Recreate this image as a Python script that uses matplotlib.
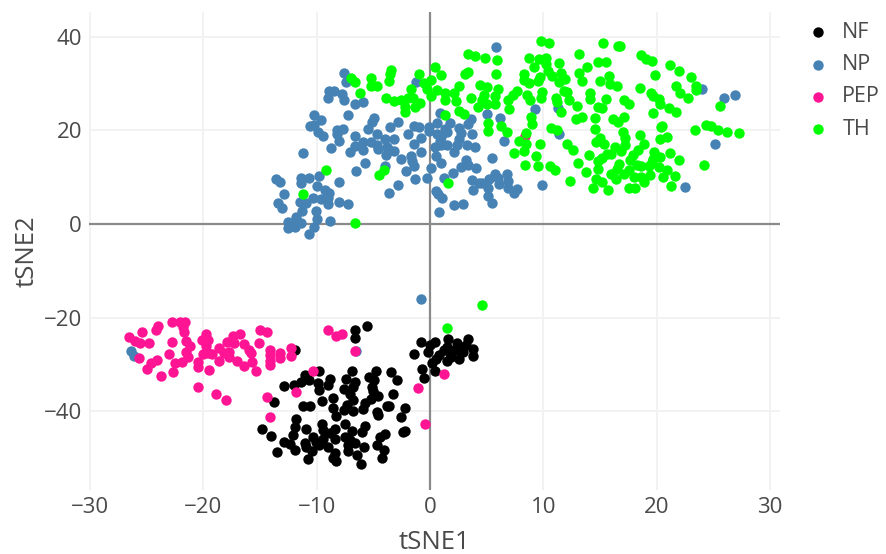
#!/usr/bin/env python3
"""tSNE scatter of the four cell groups"""

import matplotlib
matplotlib.use('Agg')
import matplotlib.pyplot as plt

plt.rcParams['font.family'] = ['Open Sans', 'DejaVu Sans']

# (tSNE1, tSNE2)
nf_points = [
    (-5.6,-21.8),(-6.6,-22.7),(-6.6,-24.3),(-11.9,-26.8),(-9.8,-31.4),(-6.9,-31.3),(-4.8,-31.4),(-3.4,-31.6),
    (-2.9,-33.3),(-11.0,-32.3),(-11.4,-33.7),(-12.0,-34.3),(-12.9,-34.5),(-10.7,-33.2),(-9.9,-33.9),(-8.8,-33.1),
    (-9.0,-34.3),(-9.8,-35.5),(-7.4,-33.0),(-6.6,-33.8),(-6.8,-34.8),(-7.6,-35.2),(-5.4,-32.7),(-4.9,-33.2),
    (-5.1,-34.8),(-5.0,-35.7),(-4.6,-36.7),(-3.3,-36.3),(-7.1,-36.2),(-6.8,-37.5),(-8.6,-37.2),(-9.5,-37.8),
    (-13.8,-38.1),(-11.2,-38.8),(-10.6,-38.9),(-8.6,-39.2),(-7.3,-38.7),(-7.6,-39.7),(-6.8,-39.9),(-5.7,-38.3),
    (-5.9,-39.4),(-5.2,-37.3),(-3.8,-38.8),(-3.6,-38.8),(-2.2,-39.3),(-2.6,-41.2),(-4.7,-40.2),(-4.6,-40.8),
    (-8.3,-41.1),(-11.8,-41.7),(-11.9,-43.3),(-12.1,-45.1),(-14.8,-43.7),(-14.0,-45.3),(-10.9,-43.8),(-9.5,-42.7),
    (-7.5,-42.6),(-5.7,-43.2),(-6.9,-44.2),(-9.4,-44.0),(-8.8,-44.7),(-8.4,-43.7),(-6.0,-44.4),(-4.0,-44.9),
    (-4.4,-45.4),(-2.4,-44.4),(-2.2,-44.1),(-12.9,-46.5),(-12.4,-47.0),(-11.9,-48.2),(-13.5,-48.7),(-11.0,-46.7),
    (-10.9,-47.6),(-10.3,-45.4),(-10.1,-46.5),(-9.8,-47.2),(-10.4,-48.4),(-10.8,-50.1),(-9.4,-45.8),(-9.0,-47.6),
    (-8.4,-45.8),(-7.5,-45.4),(-7.1,-46.2),(-7.2,-47.2),(-6.6,-46.7),(-7.2,-48.4),(-5.8,-47.6),(-4.7,-47.2),
    (-4.1,-48.3),(-4.2,-49.9),(-6.4,-49.4),(-8.4,-49.0),(-8.6,-49.9),(-8.3,-50.7),(-6.1,-51.3),
    (-0.8,-25.1),(-1.4,-27.8),(-0.7,-31.0),(-0.5,-32.8),(0.4,-25.1),(0.0,-25.8),(-0.2,-27.3),(0.4,-31.4),
    (0.2,-29.6),(0.5,-28.9),(0.8,-28.0),(1.2,-26.9),(1.6,-24.6),(1.5,-26.2),(1.8,-27.6),(1.5,-29.2),
    (2.1,-26.9),(1.9,-28.3),(2.4,-25.4),(2.6,-28.9),(2.9,-27.3),(2.5,-26.9),(3.4,-24.6),(3.2,-25.9),
    (3.8,-26.7),(3.8,-28.2),
]

np_points = [
    (-7.6,32.3),(-7.4,30.3),(-8.9,28.4),(-8.5,28.5),(-9.0,26.9),(-7.8,27.7),(-7.6,26.6),(-6.6,25.7),
    (-5.9,26.1),(-7.2,23.4),(-10.2,23.4),(-9.6,22.2),(-10.6,20.9),(-10.2,21.2),(-9.9,19.7),(-9.4,18.8),
    (-8.2,20.2),(-7.7,20.4),(-8.2,19.2),(-8.0,17.8),(-8.7,16.2),(-6.6,18.9),(-5.5,20.3),(-4.9,22.6),
    (-5.1,21.7),(-4.7,19.2),(-3.5,20.7),(-2.8,21.8),(-4.0,18.2),(-3.2,18.2),(-1.9,19.2),(-1.4,20.9),
    (-1.0,20.8),(-0.8,18.4),(-1.4,17.0),(-5.9,17.5),(-5.2,17.6),(-6.6,16.7),(-7.1,15.5),(-5.9,15.8),
    (-4.7,16.9),(-4.6,16.0),(-3.8,16.5),(-3.7,16.0),(-3.2,15.7),(-3.9,14.8),(-2.6,14.0),(-1.7,14.6),
    (-1.6,13.5),(-1.4,12.3),(-0.8,15.5),(-5.7,13.1),(-6.5,11.3),(-11.2,15.2),(-4.0,12.5),(-2.1,11.3),
    (-1.3,9.7),(-0.3,9.8),(0.1,12.0),(0.5,14.5),(1.0,13.1),(2.0,11.0),(2.7,12.1),(3.2,13.7),
    (3.4,12.7),(4.1,12.0),(1.2,9.8),(3.7,9.4),(4.3,8.8),(3.8,7.3),(-2.8,8.4),(-3.6,6.6),
    (0.5,7.1),(0.7,6.4),(1.1,5.6),(2.1,4.1),(2.9,4.3),(0.8,2.6),(-1.2,30.3),
    (-0.1,20.8),(-0.1,19.9),(0.6,21.5),(0.9,23.8),(1.8,21.6),(1.3,20.4),(1.5,19.7),(0.6,19.2),
    (1.0,18.7),(0.9,17.7),(0.4,16.5),(1.0,16.9),(1.5,16.9),(2.1,15.5),(2.4,16.9),(2.6,20.6),
    (2.7,19.4),(2.6,18.1),(3.4,21.3),(3.6,22.4),(3.7,19.2),(3.3,16.9),(4.0,16.4),
    (-13.6,9.6),(-13.2,9.0),(-11.4,9.9),(-10.7,9.8),(-9.8,10.3),(-11.4,8.7),(-10.0,8.1),(-12.9,6.5),
    (-8.0,9.0),(-9.3,7.3),(-8.9,6.6),(-9.0,5.6),(-10.3,5.6),(-9.6,5.3),(-9.0,4.3),(-8.0,4.7),
    (-7.2,4.3),(-11.5,4.8),(-10.9,4.4),(-11.3,2.9),(-13.4,4.6),(-13.1,3.5),(-10.1,2.8),(-10.0,1.0),
    (-11.8,1.6),(-12.5,0.5),(-11.4,0.3),(-12.1,0.0),(-12.5,-0.9),(-11.9,-0.6),(-10.2,-0.7),(-10.7,-2.1),
    (-8.8,0.6),
    (5.8,37.9),(5.0,23.6),(6.2,22.7),(9.3,24.5),(11.3,24.9),(11.4,19.2),(6.5,17.7),(5.5,14.2),
    (24.0,28.8),(26.0,27.0),(26.9,27.5),(25.2,17.0),(22.5,7.9),(9.9,8.3),
    (5.7,10.7),(5.2,9.6),(6.0,9.8),(6.8,10.8),(6.9,9.2),(6.1,8.5),(4.6,8.7),(5.1,7.8),
    (6.9,7.8),(7.7,7.4),(7.4,6.6),(5.1,6.0),(5.5,4.4),
    (-26.4,-27.2),(-26.1,-28.2),(-0.8,-16.0),(-6.5,-27.2),
]

pep_points = [
    (-26.6,-24.1),(-25.4,-23.0),(-24.2,-22.6),(-24.0,-21.7),(-22.8,-21.0),(-22.1,-21.0),(-21.6,-21.0),(-21.8,-21.9),
    (-21.7,-23.1),(-26.0,-25.0),(-25.6,-25.3),(-24.8,-25.3),(-22.8,-25.2),(-21.5,-25.0),(-21.2,-26.0),(-19.8,-23.5),
    (-20.1,-24.8),(-19.6,-24.7),(-19.8,-26.1),(-21.5,-27.3),(-23.0,-27.8),(-25.7,-28.7),(-24.1,-29.1),(-24.6,-29.6),
    (-25.0,-30.9),(-23.7,-32.5),(-22.7,-31.7),(-22.5,-29.6),(-21.9,-29.4),(-21.4,-28.4),(-20.5,-29.4),(-20.5,-30.5),
    (-19.5,-31.2),(-20.0,-27.8),(-19.6,-27.5),(-19.2,-27.8),(-18.6,-26.4),(-18.6,-29.3),(-18.2,-27.6),(-17.7,-28.4),
    (-17.9,-25.2),(-17.4,-23.9),(-16.8,-23.4),(-17.3,-25.5),(-17.7,-27.3),(-16.4,-25.7),(-16.0,-26.8),(-15.8,-27.6),
    (-17.0,-29.3),(-16.4,-30.3),(-15.7,-29.4),(-15.4,-31.3),(-15.0,-22.7),(-14.4,-23.1),(-15.1,-25.4),(-14.1,-26.8),
    (-14.1,-28.0),(-14.1,-29.2),(-14.1,-30.2),(-13.2,-27.6),(-13.2,-28.7),(-12.3,-26.4),(-12.3,-28.1),(-20.5,-34.8),
    (-18.9,-36.3),(-18.0,-37.5),(-14.4,-37.0),(-14.1,-41.3),(-11.8,-35.9),
    (-9.0,-22.7),(-8.3,-23.9),(-7.8,-23.4),(-6.6,-27.2),(-10.3,-31.4),(-1.1,-35.1),(1.2,-32.1),(-0.4,-42.7),
    (8.4,18.8),
]

th_points = [
    (-7.0,31.2),(-6.6,30.3),(-5.2,31.1),(-3.4,32.9),(-3.5,32.0),(-3.6,30.5),(-5.2,29.4),(-4.7,29.5),
    (-6.2,28.0),(-1.0,32.0),(0.4,33.6),(1.0,31.9),(3.4,36.3),(4.0,35.8),(3.4,32.5),(3.1,32.0),
    (-0.5,30.2),(0.1,30.8),(-0.3,28.8),(-1.7,28.8),(0.1,27.4),(0.6,28.6),(1.3,28.1),(2.1,28.0),
    (2.6,29.6),(-3.9,27.0),(-3.2,26.2),(-2.6,26.4),(-1.9,26.9),(-1.5,27.0),(-2.2,25.0),(-2.2,24.0),
    (-0.9,25.8),(-1.3,25.0),(1.3,26.5),(2.3,26.2),(3.6,27.0),(4.4,29.7),(4.6,26.5),(4.2,25.0),
    (1.3,23.4),(2.6,24.1),(3.0,23.6),(-9.2,11.5),(-4.1,11.5),(-4.5,10.5),(1.6,8.8),(-11.2,6.4),
    (-6.6,0.3),
    (9.8,39.0),(10.5,38.7),(15.3,38.7),(16.6,38.1),(16.8,38.0),(4.9,35.5),(5.9,35.0),(8.7,35.5),
    (9.6,35.2),(10.2,35.5),(13.2,36.3),(18.6,36.2),(19.1,35.3),(19.6,34.8),(14.8,34.6),(15.5,34.7),
    (11.4,34.3),(10.2,34.1),(9.2,33.5),(13.9,33.6),(21.2,33.9),(22.0,32.7),(23.0,31.4),(10.4,32.8),
    (11.6,32.3),(13.2,32.2),(19.9,31.8),(5.8,32.0),(8.3,32.0),(10.8,31.6),(15.8,31.7),(9.7,31.5),
    (8.3,30.8),(8.7,30.1),(9.5,30.6),(11.9,31.0),(11.4,30.3),(13.4,30.6),(15.0,30.6),(15.9,30.0),
    (16.5,29.5),(21.7,29.6),(23.5,29.5),(23.5,28.6),(22.1,28.1),(22.8,26.9),(18.5,29.1),(19.5,28.1),
    (19.7,27.4),(20.2,26.7),(20.3,25.6),(21.1,24.7),(21.7,24.0),(19.7,23.7),(25.6,25.2),(5.0,29.3),
    (6.0,28.8),(4.8,27.6),(7.7,28.4),(7.3,27.6),(6.9,26.6),(5.7,27.4),(5.7,25.6),(5.0,25.6),
    (7.0,24.6),(8.6,27.6),(8.8,26.4),(9.9,28.2),(9.8,27.0),(11.8,28.5),(12.1,28.3),(11.1,26.9),
    (11.2,26.0),(12.3,26.4),(13.0,25.2),(11.6,23.9),(14.1,28.1),(14.1,26.7),(15.5,26.8),(14.8,25.1),
    (15.2,24.7),(17.1,26.4),(17.6,25.6),(14.6,22.7),(13.4,22.8),(12.9,22.4),(16.2,22.5),(17.1,22.8),
    (16.6,21.7),(8.9,22.8),(9.0,21.3),(5.1,21.5),(6.3,21.0),(5.1,19.9),(6.8,19.7),(8.5,19.5),
    (10.7,20.6),(11.2,20.1),(14.6,20.3),(20.5,21.0),(20.4,20.7),(23.4,20.2),(24.4,21.2),(24.8,20.9),
    (25.4,20.1),(26.2,19.7),(27.3,19.4),(17.0,19.7),(18.5,19.0),(17.2,18.3),(20.9,18.5),(20.3,18.1),
    (18.9,17.2),(15.0,18.3),(14.7,17.5),(15.4,17.0),(17.2,16.9),(16.3,16.5),(16.9,15.7),(7.9,17.7),
    (8.5,17.1),(9.7,17.1),(12.1,17.1),(12.6,15.8),(8.3,15.6),(7.4,15.2),(9.4,14.6),(14.0,14.8),
    (16.0,14.9),(15.6,14.9),(15.2,14.2),(14.8,13.5),(13.1,13.0),(8.4,12.6),(9.5,12.5),(10.6,12.5),
    (11.0,11.6),(18.4,15.8),(17.9,14.7),(17.7,13.7),(19.8,15.5),(19.7,14.0),(20.3,14.4),(21.2,15.1),
    (22.0,13.6),(19.6,13.3),(18.3,12.6),(18.6,12.3),(19.3,12.4),(20.2,12.1),(16.7,12.8),(16.5,11.7),
    (17.6,11.5),(14.8,11.7),(13.8,11.2),(20.9,11.5),(19.4,10.5),(21.6,10.3),(20.6,10.1),(17.1,10.7),
    (16.0,10.6),(16.4,9.6),(18.0,10.0),(18.6,10.0),(18.9,9.0),(12.4,9.2),(14.7,9.6),(15.2,9.0),
    (14.4,7.8),(15.7,7.2),(17.6,7.8),(18.1,7.8),(21.3,8.1),(24.2,12.6),
    (4.6,-17.3),(1.5,-22.3),
]

labels = ['NF', 'NP', 'PEP', 'TH']
colors = ['#000000', '#4682B4', '#FF1493', '#00FF00']
x_ticks = [-30, -20, -10, 0, 10, 20, 30]
y_ticks = [-40, -20, 0, 20, 40]

fig = plt.figure(figsize=(8.86, 5.54), dpi=100)
ax = fig.add_axes([89 / 886, 64 / 554, 691 / 886, 478 / 554])

for points, label, color in zip([nf_points, np_points, pep_points, th_points], labels, colors):
    xs, ys = zip(*points)
    ax.scatter(xs, ys, s=56, c=color, linewidths=0, label=label, zorder=3)

ax.set_xlim(-30.1, 30.9)
ax.set_ylim(-56.8, 45.3)
ax.set_xticks(x_ticks)
ax.set_yticks(y_ticks)
ax.grid(True, color='#f2f2f2', linewidth=1.4)
ax.set_axisbelow(True)
ax.axhline(0, color='#8a8a8a', linewidth=1.6, zorder=2)
ax.axvline(0, color='#8a8a8a', linewidth=1.6, zorder=2)
for spine in ax.spines.values():
    spine.set_visible(False)
ax.tick_params(length=0, labelsize=16, labelcolor='#4a4a4a', pad=5)
ax.set_xlabel('tSNE1', fontsize=18.5, color='#4a4a4a', labelpad=9)
ax.set_ylabel('tSNE2', fontsize=18.5, color='#4a4a4a', labelpad=3)

ax.legend(loc='upper left', bbox_to_anchor=(796 / 886, 1 - 22 / 554), bbox_transform=fig.transFigure,
          frameon=False, fontsize=15.5, labelcolor='#4a4a4a', labelspacing=0.52,
          handlelength=2, handletextpad=0.15, borderpad=0, borderaxespad=0)

plt.savefig('out.png', dpi=100)
plt.close()
